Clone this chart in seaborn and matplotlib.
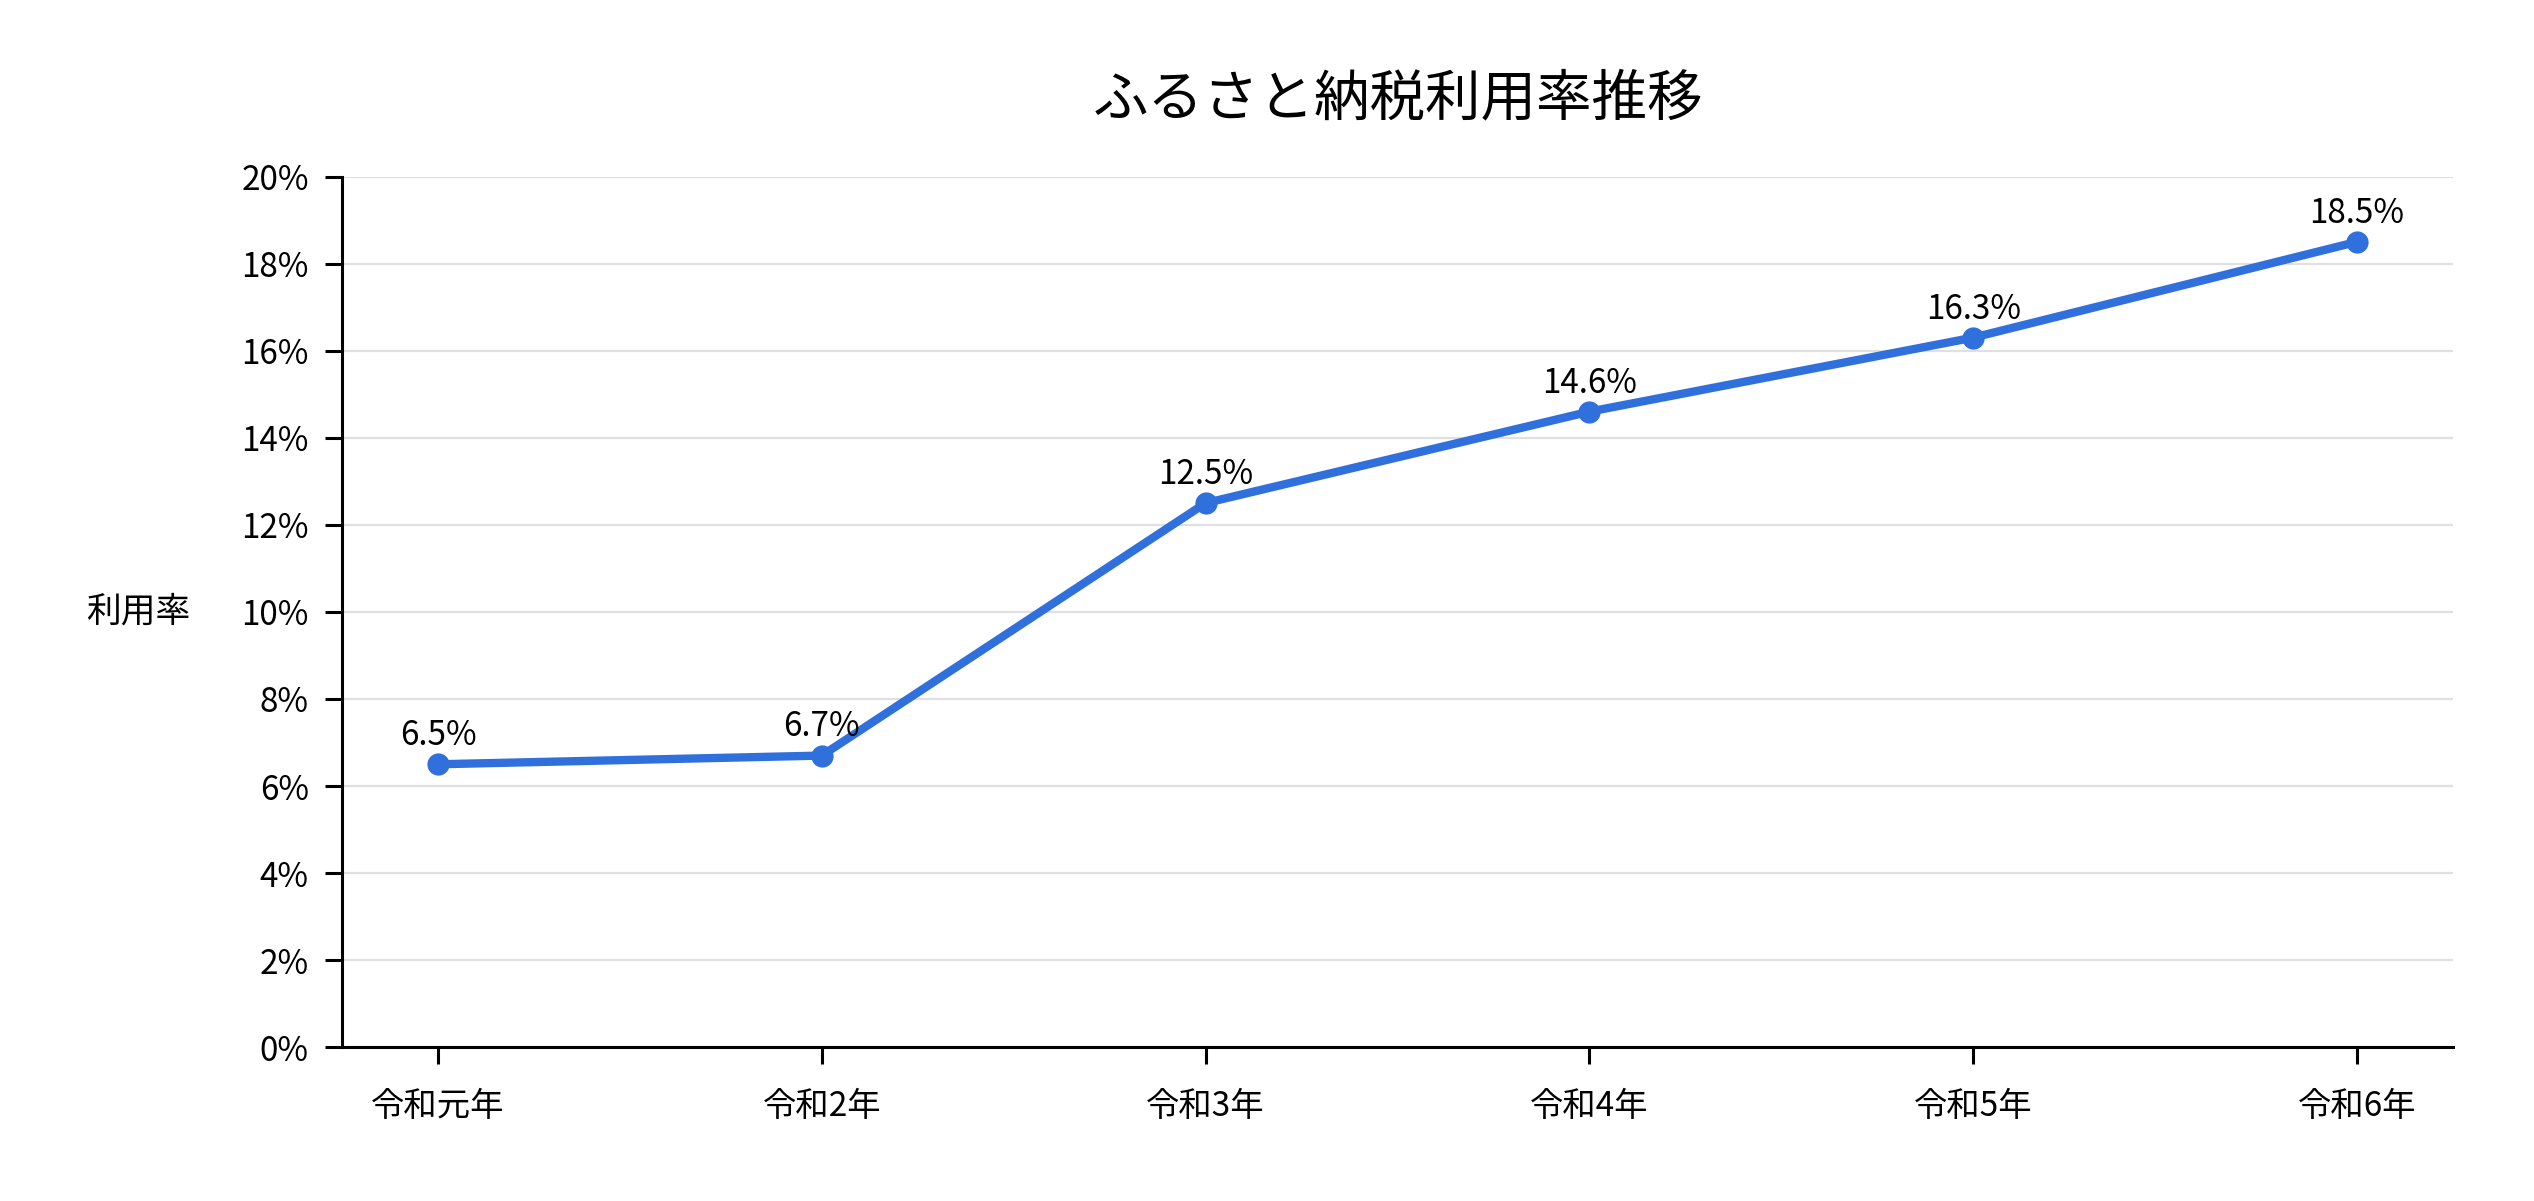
import matplotlib
matplotlib.use("Agg")
import matplotlib.pyplot as plt
import seaborn as sns
import pandas as pd
from matplotlib.ticker import PercentFormatter

years = ["令和元年", "令和2年", "令和3年", "令和4年", "令和5年", "令和6年"]
rates = [6.5, 6.7, 12.5, 14.6, 16.3, 18.5]
y_ticks = [0, 2, 4, 6, 8, 10, 12, 14, 16, 18, 20]

df = pd.DataFrame({"year": years, "rate": rates})

sns.set_theme(style="white")
plt.rcParams["font.family"] = ["Noto Sans CJK JP", "DejaVu Sans"]

color = "#3070DC"

fig, ax = plt.subplots(figsize=(12.67, 6.005), dpi=200)
fig.subplots_adjust(left=0.135, right=0.968, top=0.853, bottom=0.128)

sns.lineplot(data=df, x="year", y="rate", ax=ax, color=color, linewidth=3,
             marker="o", markersize=8, markeredgewidth=0, sort=False)

for i, v in enumerate(rates):
    ax.annotate(f"{v:.1f}%", (i, v), textcoords="offset points", xytext=(0, 4),
                ha="center", va="bottom", fontsize=12, color="black")

ax.set_xlim(-0.25, len(years) - 0.75)
ax.set_ylim(0, 20)
ax.set_yticks(y_ticks)
ax.yaxis.set_major_formatter(PercentFormatter(decimals=0))
ax.grid(axis="y", color="#e0e0e0", linewidth=0.8)
ax.set_axisbelow(True)

for s in ["top", "right"]:
    ax.spines[s].set_visible(False)
for s in ["left", "bottom"]:
    ax.spines[s].set_color("black")
    ax.spines[s].set_linewidth(1.1)

ax.tick_params(axis="both", length=6, width=1.1, color="black", labelsize=12,
               labelcolor="black", left=True, bottom=True, pad=6)
ax.tick_params(axis="x", pad=9)

ax.set_xlabel("")
ax.set_ylabel("利用率", rotation=0, fontsize=12.5, color="black", labelpad=37, va="center")
ax.set_title("ふるさと納税利用率推移", fontsize=20, color="black", pad=22)

fig.savefig("out.png", dpi=200)
